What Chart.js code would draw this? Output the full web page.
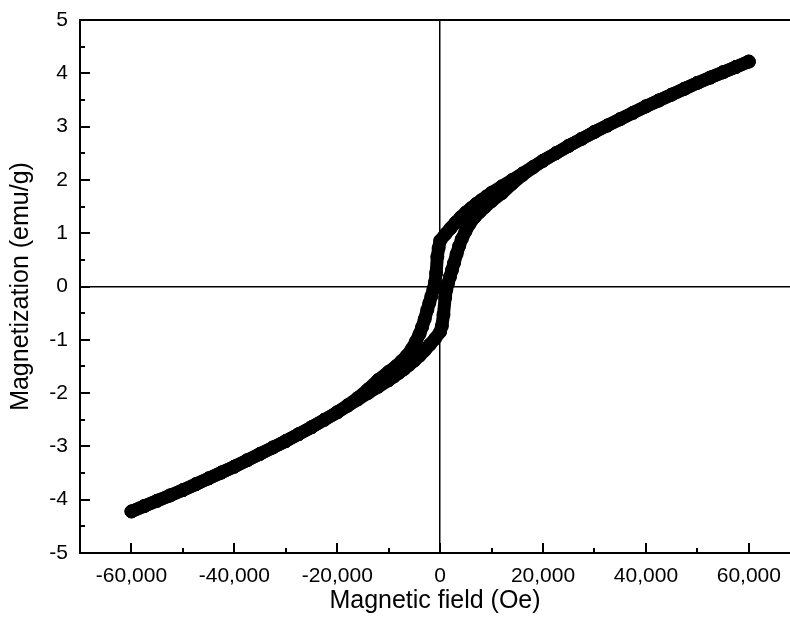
<!DOCTYPE html>
<html>
<head>
<meta charset="utf-8">
<script src="https://cdn.jsdelivr.net/npm/chart.js@4.4.1/dist/chart.umd.min.js"></script>
<style>
  html, body { margin: 0; padding: 0; background: #fff; overflow: hidden; }
  canvas { display: block; }
</style>
</head>
<body>
<canvas id="myChart" width="790" height="617"></canvas>
<script>
// descending field branch (upper), +60000 -> -60000
const descField = [60000, 57500, 55000, 52500, 50000, 47500, 45000, 42500, 40000, 37500, 35000, 32500, 30000,
  27500, 25000, 22500, 20000, 18000, 16000, 14000, 12000, 10000, 9000, 8000, 7000, 6000, 5000, 4000, 3000,
  2000, 1000, 0, -300, -550, -780, -1000, -1300, -1700, -2100, -2500, -3000, -3500, -4000, -4700, -5500,
  -6500, -7500, -8500, -10000, -12000, -14000, -16000, -18000, -20000, -22500, -25000, -27500, -30000,
  -32500, -35000, -37500, -40000, -42500, -45000, -47500, -50000, -52500, -55000, -57500, -60000];
const descMoment = [4.22, 4.12, 4.02, 3.92, 3.82, 3.71, 3.60, 3.49, 3.38, 3.26, 3.14, 3.02, 2.90,
  2.77, 2.64, 2.50, 2.36, 2.24, 2.12, 2.00, 1.88, 1.76, 1.69, 1.62, 1.55, 1.47, 1.39, 1.30, 1.20,
  1.09, 0.98, 0.86, 0.72, 0.56, 0.25, 0.08, -0.05, -0.18, -0.31, -0.44, -0.61, -0.76, -0.89, -1.03, -1.17,
  -1.30, -1.40, -1.49, -1.60, -1.75, -1.93, -2.09, -2.23, -2.36, -2.50, -2.64, -2.77, -2.90,
  -3.02, -3.14, -3.26, -3.38, -3.49, -3.60, -3.71, -3.82, -3.92, -4.02, -4.12, -4.22];

// ascending field branch (lower), -60000 -> +60000
const ascField = [-60000, -57500, -55000, -52500, -50000, -47500, -45000, -42500, -40000, -37500, -35000,
  -32500, -30000, -27500, -25000, -22500, -20000, -18000, -16000, -14000, -12000, -10000, -9000, -8000,
  -7000, -6000, -5000, -4000, -3000, -2000, -1000, 0, 330, 650, 970, 1200, 1500, 1900, 2300, 2700, 3200,
  3700, 4200, 4900, 5700, 6700, 7700, 8700, 10000, 12000, 14000, 16000, 18000, 20000, 22500, 25000,
  27500, 30000, 32500, 35000, 37500, 40000, 42500, 45000, 47500, 50000, 52500, 55000, 57500, 60000];
const ascMoment = [-4.22, -4.12, -4.02, -3.92, -3.82, -3.71, -3.60, -3.49, -3.38, -3.26, -3.14,
  -3.02, -2.90, -2.77, -2.64, -2.50, -2.36, -2.24, -2.12, -2.00, -1.88, -1.76, -1.69, -1.62,
  -1.55, -1.47, -1.39, -1.30, -1.20, -1.09, -0.98, -0.85, -0.74, -0.53, -0.21, -0.06, 0.05, 0.18, 0.31, 0.44, 0.61,
  0.76, 0.89, 1.03, 1.17, 1.30, 1.40, 1.49, 1.60, 1.75, 1.93, 2.09, 2.23, 2.36, 2.50, 2.64,
  2.77, 2.90, 3.02, 3.14, 3.26, 3.38, 3.49, 3.60, 3.71, 3.82, 3.92, 4.02, 4.12, 4.22];

// x ticks every 10,000 (labels on every other one)
const xTickValues = [-60000, -50000, -40000, -30000, -20000, -10000, 0, 10000, 20000, 30000, 40000, 50000, 60000];
const xTickLabels = [-60000, -40000, -20000, 0, 20000, 40000, 60000];
const yTickLabels = [-5, -4, -3, -2, -1, 0, 1, 2, 3, 4, 5];

const FONT = "'Liberation Sans', Arial, Helvetica, sans-serif";

function toPoints(xs, ys) {
  return xs.map((x, i) => ({ x: x, y: ys[i] }));
}

// ticks pointing into the plot, plus the top frame line
const innerTicks = {
  id: 'innerTicks',
  afterDraw(chart) {
    const { ctx, chartArea } = chart;
    const xs = chart.scales.x, ys = chart.scales.y;
    ctx.save();
    ctx.strokeStyle = '#000';
    ctx.lineWidth = 2;
    ctx.beginPath();
    xs.ticks.forEach(t => {
      if (t.value <= xs.min || t.value >= xs.max) return;
      const px = Math.round(xs.getPixelForValue(t.value));
      const len = xTickLabels.includes(t.value) ? 10 : 5;
      ctx.moveTo(px, chartArea.bottom);
      ctx.lineTo(px, chartArea.bottom - len);
    });
    ys.ticks.forEach(t => {
      if (t.value <= ys.min || t.value >= ys.max) return;
      const py = Math.round(ys.getPixelForValue(t.value));
      const len = Number.isInteger(t.value) ? 10 : 5;
      ctx.moveTo(chartArea.left, py);
      ctx.lineTo(chartArea.left + len, py);
    });
    ctx.moveTo(chartArea.left - 1, chartArea.top);
    ctx.lineTo(chart.width, chartArea.top);
    ctx.stroke();
    ctx.restore();
  }
};

const zeroLine = c => (c.tick && Math.abs(c.tick.value) < 1e-9) ? '#000' : 'rgba(0,0,0,0)';

const branchStyle = {
  showLine: true,
  borderColor: '#000',
  backgroundColor: '#000',
  borderWidth: 13,
  borderCapStyle: 'round',
  borderJoinStyle: 'round',
  pointRadius: 6.5,
  pointBorderWidth: 1,
  pointBorderColor: '#000',
  pointBackgroundColor: '#000',
  tension: 0
};

new Chart(document.getElementById('myChart'), {
  type: 'scatter',
  data: {
    datasets: [
      Object.assign({ label: 'descending', data: toPoints(descField, descMoment) }, branchStyle),
      Object.assign({ label: 'ascending', data: toPoints(ascField, ascMoment) }, branchStyle)
    ]
  },
  options: {
    responsive: false,
    maintainAspectRatio: false,
    animation: false,
    devicePixelRatio: 1,
    layout: { autoPadding: false, padding: { top: 20, left: 0, right: 0, bottom: 0 } },
    plugins: { legend: { display: false }, tooltip: { enabled: false } },
    scales: {
      x: {
        type: 'linear',
        min: -70000,
        max: 68000,   // the frame runs past the right edge of the picture
        afterBuildTicks: s => { s.ticks = xTickValues.map(v => ({ value: v })); },
        afterFit: s => { s.height = 64; s.paddingLeft = 0; s.paddingRight = 0; },
        border: { display: true, color: '#000', width: 2 },
        grid: { drawTicks: false, drawOnChartArea: true, color: zeroLine, lineWidth: 1.5 },
        ticks: {
          autoSkip: false,
          maxRotation: 0,
          padding: 11,
          color: '#000',
          font: { family: FONT, size: 21 },
          callback: v => xTickLabels.includes(v) ? v.toLocaleString('en-US') : ''
        },
        title: {
          display: true,
          text: 'Magnetic field (Oe)',
          color: '#000',
          font: { family: FONT, size: 25 },
          padding: { top: 0, bottom: 1 }
        }
      },
      y: {
        type: 'linear',
        min: -5,
        max: 5,
        afterFit: s => { s.width = 80; s.paddingTop = 0; s.paddingBottom = 0; },
        border: { display: true, color: '#000', width: 2 },
        grid: { drawTicks: false, drawOnChartArea: true, color: zeroLine, lineWidth: 1.5 },
        ticks: {
          stepSize: 0.5,
          autoSkip: false,
          padding: 12,
          color: '#000',
          font: { family: FONT, size: 21 },
          callback: v => yTickLabels.includes(v) ? String(v) : ''
        },
        title: {
          display: true,
          text: 'Magnetization (emu/g)',
          color: '#000',
          font: { family: FONT, size: 25 },
          padding: { top: 6, bottom: 0 }
        }
      }
    }
  },
  plugins: [innerTicks]
});
</script>
</body>
</html>
